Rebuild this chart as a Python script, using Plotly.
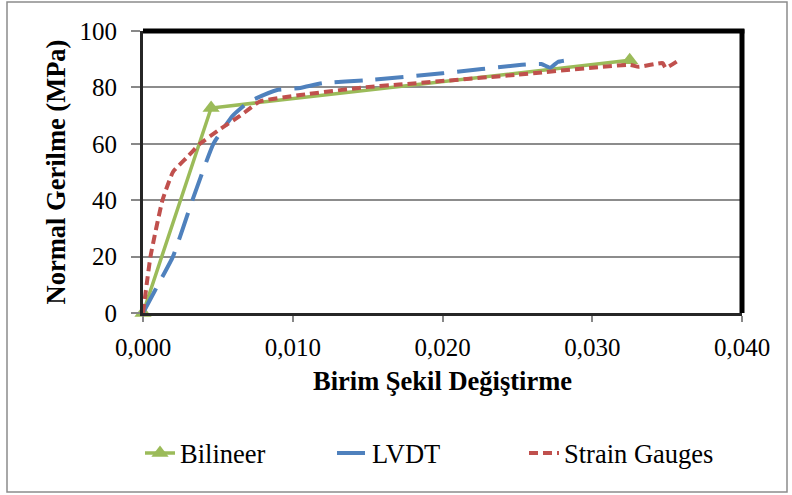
import plotly.graph_objects as go

# Data
bil_x = [0.0, 0.00455, 0.0325]
bil_y = [0.0, 72.7, 89.6]

lvdt_x = [0.0, 0.0008, 0.0020, 0.0033, 0.0047, 0.0060, 0.0071, 0.0089, 0.0105, 0.0120,
          0.0150, 0.0200, 0.0253, 0.0266, 0.0272, 0.0277, 0.0288]
lvdt_y = [0.0, 8.0, 20.0, 40.0, 60.0, 70.0, 75.0, 79.0, 79.8, 81.5,
          82.6, 85.0, 88.0, 88.3, 87.0, 89.0, 90.0]

sg_x = [0.0, 0.0005, 0.0013, 0.0020, 0.0029, 0.0038, 0.0051, 0.0065, 0.0078, 0.0105,
        0.0149, 0.0171, 0.0250, 0.0325, 0.0331, 0.0347, 0.0349, 0.0358]
sg_y = [0.0, 20.0, 40.0, 50.0, 55.0, 60.0, 65.0, 70.0, 75.0, 77.3,
        80.1, 81.0, 84.5, 88.0, 87.3, 88.6, 86.9, 89.7]

x_ticks = [0.0, 0.01, 0.02, 0.03, 0.04]
y_ticks = [0, 20, 40, 60, 80, 100]

FONT = "'Liberation Serif', 'Times New Roman', Times, serif"

fig = go.Figure()
fig.add_trace(go.Scatter(
    x=bil_x, y=bil_y, name="Bilineer", mode="lines+markers",
    line=dict(color="#9BBB59", width=3.5),
    marker=dict(symbol="triangle-up", size=15, color="#9BBB59"),
    cliponaxis=False,
))
fig.add_trace(go.Scatter(
    x=lvdt_x, y=lvdt_y, name="LVDT", mode="lines",
    line=dict(color="#4F81BD", width=4, dash="28px,13px", shape="spline", smoothing=0.4),
))
fig.add_trace(go.Scatter(
    x=sg_x, y=sg_y, name="Strain Gauges", mode="lines",
    line=dict(color="#C0504D", width=4, dash="9px,5px", shape="spline", smoothing=0.4),
))

fig.update_layout(
    width=792, height=495,
    margin=dict(l=143, r=50, t=31, b=182, autoexpand=False),
    paper_bgcolor="white", plot_bgcolor="white",
    separators=",.",
    font=dict(family=FONT, size=25, color="black"),
    showlegend=True,
    legend=dict(
        orientation="h", x=-0.005, y=-0.497, xanchor="left", yanchor="middle",
        font=dict(family=FONT, size=26.5, color="black"),
        entrywidth=147, entrywidthmode="pixels",
        bgcolor="rgba(0,0,0,0)",
    ),
    xaxis=dict(
        range=[0, 0.04], tickvals=x_ticks, tickformat=".3f",
        showgrid=False, zeroline=False, automargin=False,
        showline=True, linecolor="#262626", linewidth=3,
        ticks="outside", ticklen=6, tickcolor="#888888", tickwidth=1.5,
        ticklabelstandoff=4,
        tickfont=dict(family=FONT, size=25),
        title=dict(text="<b>Birim Şekil Değiştirme</b>",
                   font=dict(family=FONT, size=26.5), standoff=12),
    ),
    yaxis=dict(
        range=[0, 100], tickvals=y_ticks,
        showgrid=True, gridcolor="#8C8C8C", gridwidth=1.5,
        zeroline=False, automargin=False,
        showline=True, linecolor="#262626", linewidth=3,
        ticks="outside", ticklen=9, tickcolor="#888888", tickwidth=1.5,
        ticklabelstandoff=9,
        tickfont=dict(family=FONT, size=25),
        title=dict(text="<b>Normal Gerilme (MPa)</b>",
                   font=dict(family=FONT, size=26.5), standoff=7),
    ),
    shapes=[
        dict(type="line", xref="paper", yref="paper", x0=0, x1=1.004, y0=1, y1=1,
             line=dict(color="black", width=5)),
        dict(type="line", xref="paper", yref="paper", x0=1, x1=1, y0=0, y1=1.006,
             line=dict(color="black", width=5)),
        dict(type="rect", xref="paper", yref="paper",
             x0=(7 - 143) / 599, x1=(787 - 143) / 599,
             y0=(313 - 492) / 282, y1=(313 - 2) / 282,
             line=dict(color="#8C8C8C", width=1.5), layer="below"),
    ],
)

fig.write_html("out.html",
               config={"displayModeBar": False},
               post_script="document.body.style.margin='0';document.body.style.padding='0';")
